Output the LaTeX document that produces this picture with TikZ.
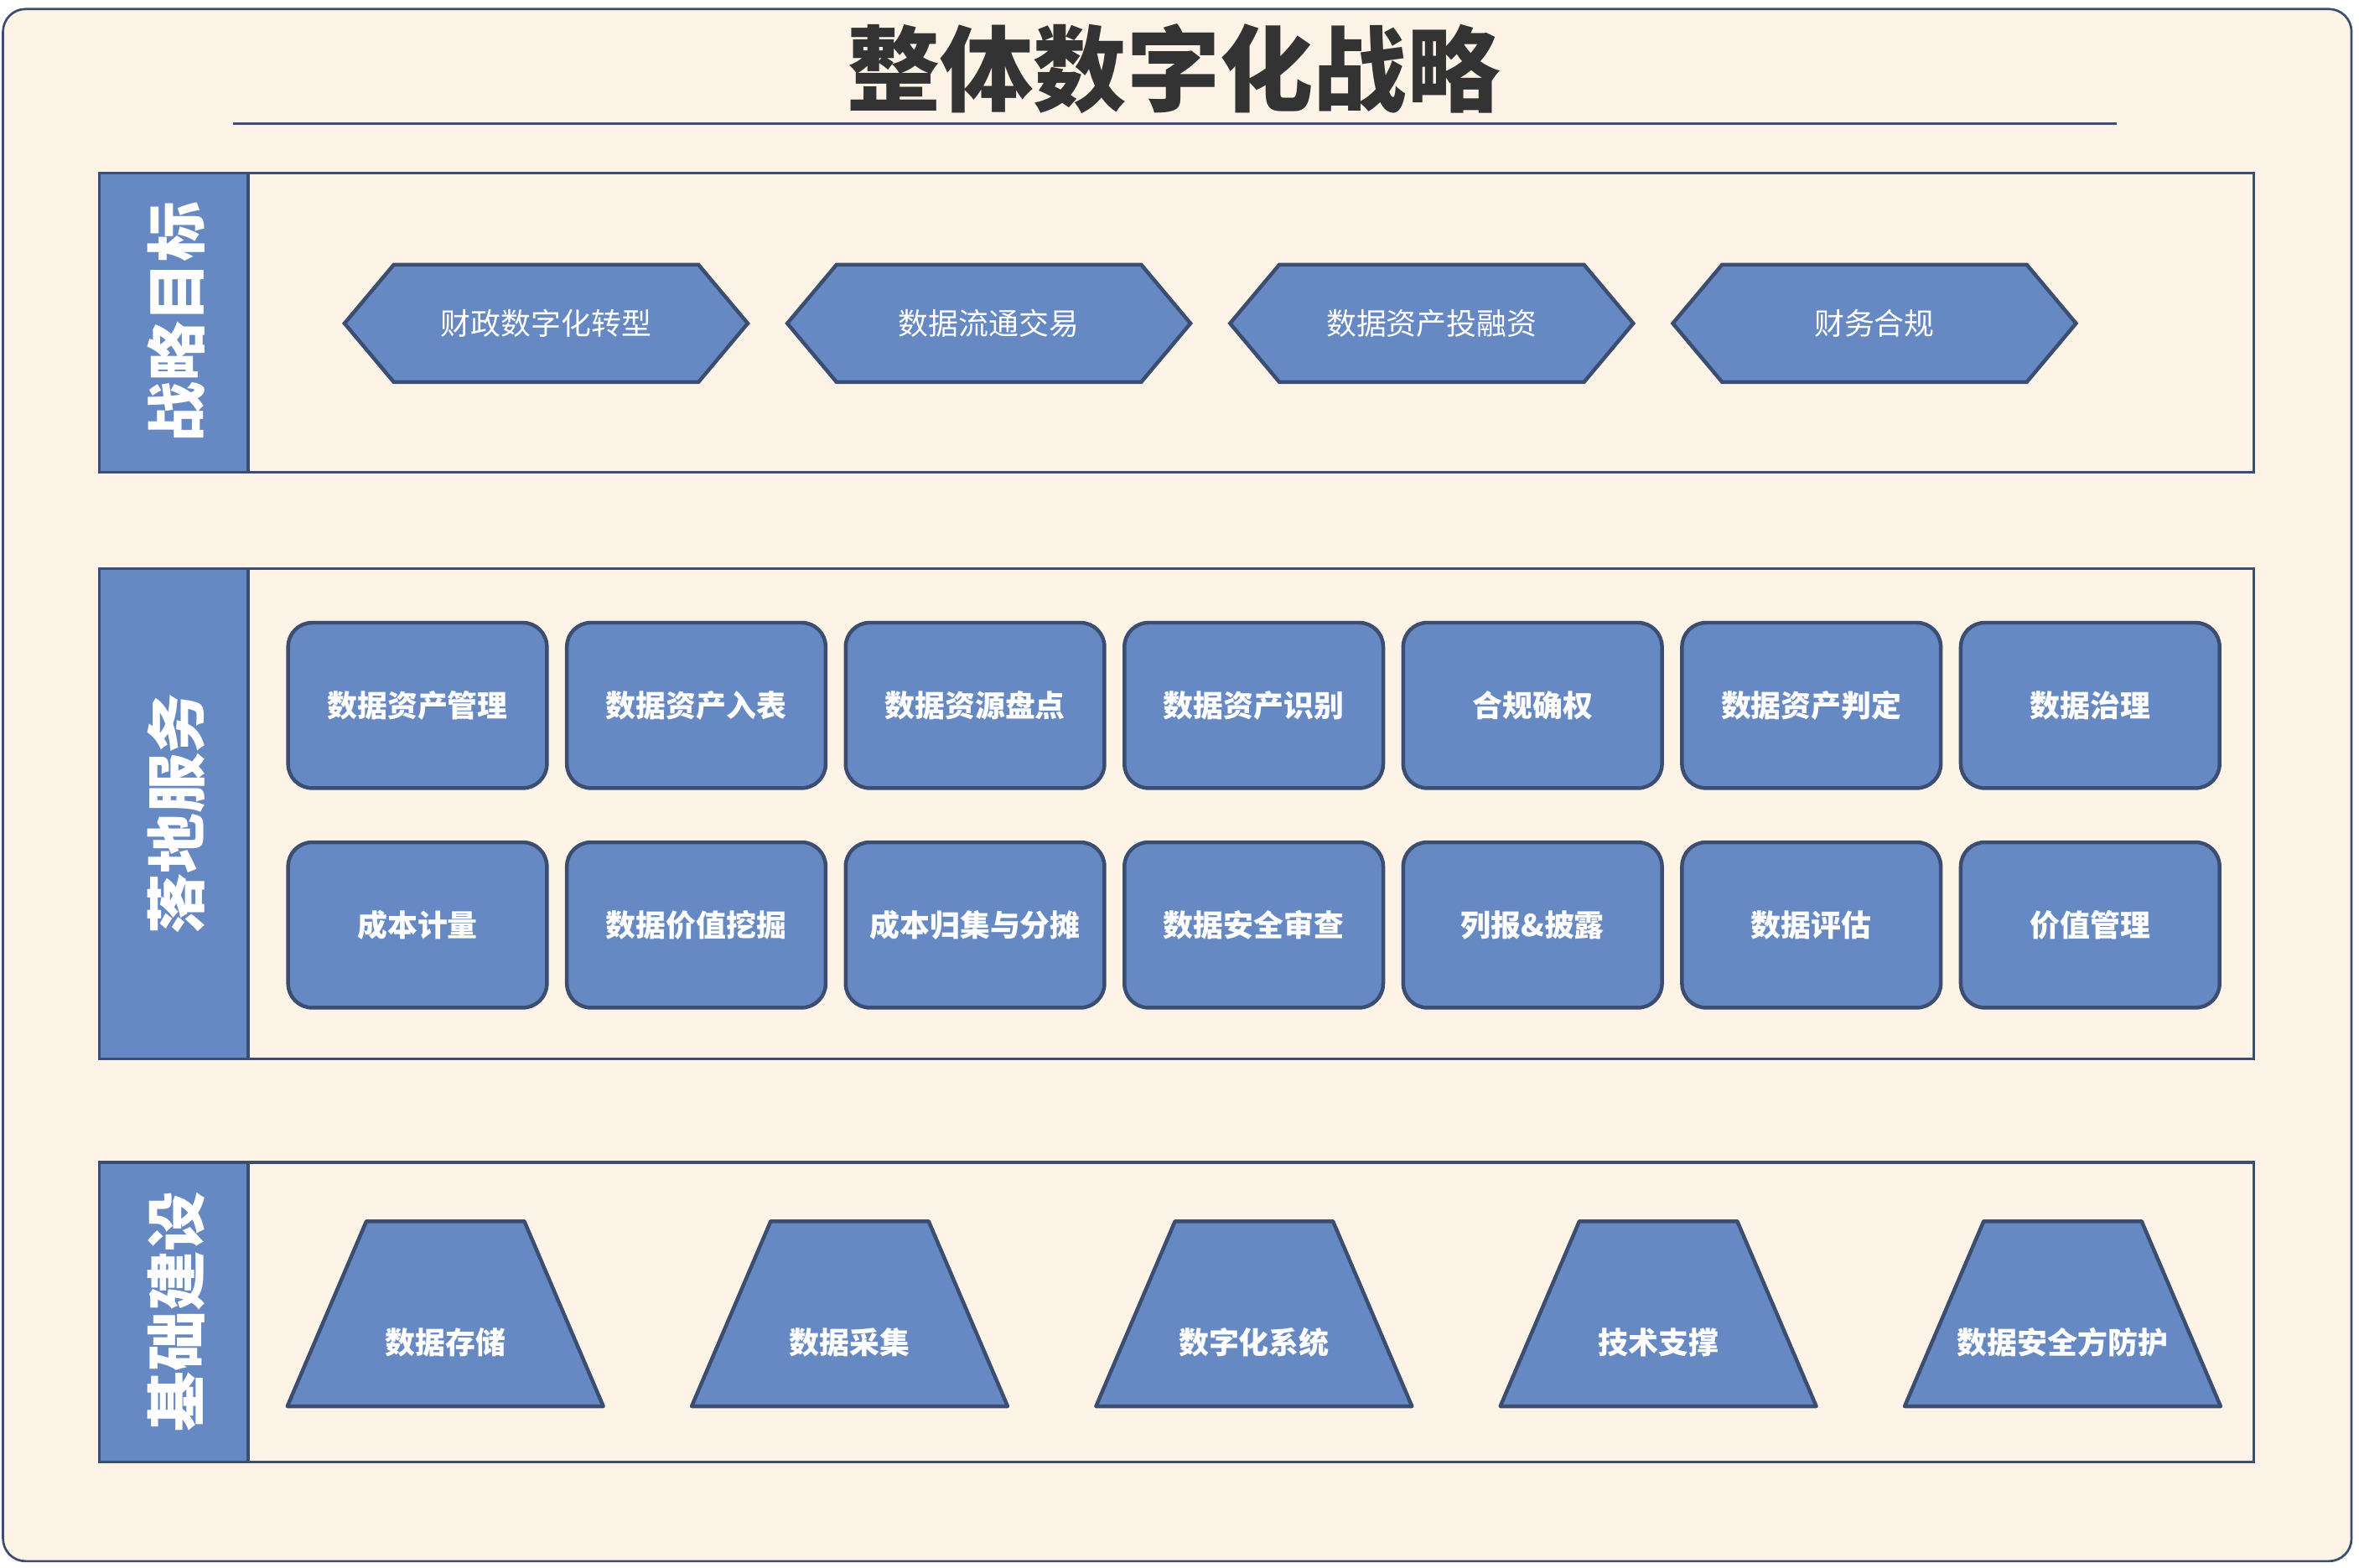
\documentclass[tikz,border=0pt]{standalone}
\usepackage{fontspec}
\setmainfont{Noto Sans CJK SC}
\usetikzlibrary{positioning,shapes.geometric,shapes.symbols}
\definecolor{bgcream}{HTML}{FDF3E7}
\definecolor{boxblue}{HTML}{6789C3}
\definecolor{edgeblue}{HTML}{3B4E72}
\tikzset{
  frame/.style={draw=edgeblue,line width=2pt},
  side/.style={frame,fill=boxblue},
  sidetxt/.style={text=white,font=\bfseries\fontsize{40}{40}\selectfont,rotate=90},
  goal/.style={signal,signal to=east and west,signal pointer angle=100,draw=edgeblue,line width=2.5pt,
    fill=boxblue,text=white,minimum width=268pt,minimum height=78pt,inner sep=0pt,font=\fontsize{20}{20}\selectfont},
  service/.style={rounded corners=16pt,draw=edgeblue,line width=2.5pt,fill=boxblue,text=white,
    minimum width=172pt,minimum height=110pt,inner sep=0pt,font=\bfseries\fontsize{20}{20}\selectfont},
  base/.style={draw=edgeblue,line width=2.5pt,fill=boxblue,line join=round},
  basetxt/.style={text=white,font=\bfseries\fontsize{20}{20}\selectfont}
}
\begin{document}
\begin{tikzpicture}[x=1pt,y=-1pt]
\useasboundingbox (0,0) rectangle (1568,1042);
\draw[edgeblue,fill=bgcream,line width=1.5pt,rounded corners=15pt] (2,6) rectangle (1563,1038);
\node[font=\bfseries\fontsize{62}{62}\selectfont,text=black!80] (title) at (780,46) {整体数字化战略};
\draw[edgeblue,line width=1.5pt] (155,82) -- (1407,82);
% sections
\draw[frame] (66,115) rectangle (1498,314);
\draw[side] (66,115) rectangle (165,314);
\node[sidetxt] (s1) at (117,214) {战略目标};
\draw[frame] (66,378) rectangle (1498,704);
\draw[side] (66,378) rectangle (165,704);
\node[sidetxt] (s2) at (117,541) {落地服务};
\draw[frame] (66,773) rectangle (1498,972);
\draw[side] (66,773) rectangle (165,972);
\node[sidetxt] (s3) at (117,872) {基础建设};
% goals
\foreach \t [count=\i] in {财政数字化转型,数据流通交易,数据资产投融资,财务合规}
  \node[goal] (g\i) at ({363+294.3*(\i-1)},215) {\t};
% services
\foreach \t [count=\i] in {数据资产管理,数据资产入表,数据资源盘点,数据资产识别,合规确权,数据资产判定,数据治理}
  \node[service] (a\i) at ({277.5+185.3*(\i-1)},469) {\t};
\foreach \t [count=\i] in {成本计量,数据价值挖掘,成本归集与分摊,数据安全审查,列报\&披露,数据评估,价值管理}
  \node[service] (b\i) at ({277.5+185.3*(\i-1)},615) {\t};
% base
\foreach \t [count=\i] in {数据存储,数据采集,数字化系统,技术支撑,数据安全方防护}{
  \coordinate (m\i) at ({296+268.75*(\i-1)},873.5);
  \draw[base] ([xshift=-105pt,yshift=-61.5pt]m\i) -- ([xshift=105pt,yshift=-61.5pt]m\i)
    -- ([xshift=52.5pt,yshift=61.5pt]m\i) -- ([xshift=-52.5pt,yshift=61.5pt]m\i) -- cycle;
  \node[basetxt] (c\i) at ([yshift=-19pt]m\i) {\t};
}
\end{tikzpicture}
\end{document}
